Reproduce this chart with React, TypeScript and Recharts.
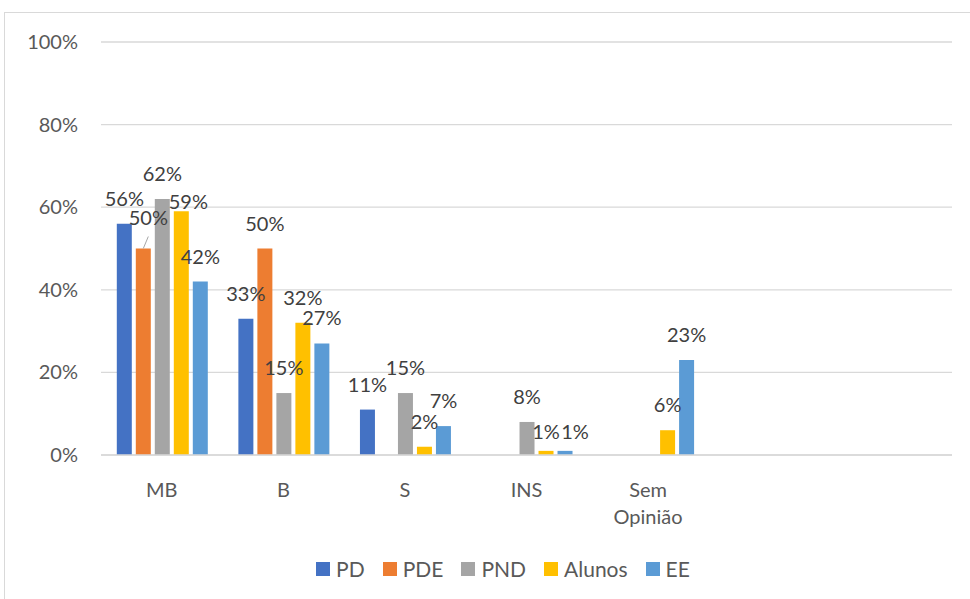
import React from 'react';
import { BarChart, Bar, XAxis, YAxis, CartesianGrid, LabelList } from 'recharts';

// categories (last two are empty slots in the original sheet)
const categories = ['MB', 'B', 'S', 'INS', 'Sem Opinião', '', ''];

const pd = [56, 33, 11, null, null, null, null];
const pde = [50, 50, null, null, null, null, null];
const pnd = [62, 15, 15, 8, null, null, null];
const alunos = [59, 32, 2, 1, 6, null, null];
const ee = [42, 27, 7, 1, 23, null, null];

const yTicks = [0, 20, 40, 60, 80, 100];

const series = [
    { key: 'pd', name: 'PD', values: pd, color: '#4472C4' },
    { key: 'pde', name: 'PDE', values: pde, color: '#ED7D31' },
    { key: 'pnd', name: 'PND', values: pnd, color: '#A5A5A5' },
    { key: 'alunos', name: 'Alunos', values: alunos, color: '#FFC000' },
    { key: 'ee', name: 'EE', values: ee, color: '#5B9BD5' },
];

// manual nudges of a few labels, like in the original
const labelNudges: Record<string, { dx: number; dy: number; leader?: boolean }> = {
    'pde-0': { dx: 5, dy: -6, leader: true },
    'alunos-0': { dx: 7, dy: 16 },
    'alunos-3': { dx: 0, dy: 6 },
    'ee-3': { dx: 10, dy: 6 },
};

const data = categories.map((name, i) => {
    const row: any = { name };
    series.forEach(s => { row[s.key] = s.values[i]; });
    return row;
});

const FONT = 'Lato, "Open Sans", sans-serif';

const makeLabel = (seriesKey: string) => (props: any) => {
    const { x, y, width, value, index } = props;
    if (value == null) return null;
    const nudge = labelNudges[`${seriesKey}-${index}`] || { dx: 0, dy: 0 };
    const cx = x + width / 2;
    const ty = y - 25 + nudge.dy;
    return (
        <g>
            {nudge.leader && (
                <line x1={cx} y1={y} x2={cx + 5} y2={y - 12} stroke="#A6A6A6" strokeWidth={1} />
            )}
            <text x={cx + nudge.dx} y={ty + 7} textAnchor="middle" fill="#404040" fontSize={20} fontFamily={FONT}>
                {value}%
            </text>
        </g>
    );
};

const XTick = ({ x, y, payload }: any) => {
    const lines = String(payload.value).split(' ');
    return (
        <text x={x} y={y} textAnchor="middle" fill="#595959" fontSize={20} fontFamily={FONT}>
            {lines.map((l, i) => (
                <tspan key={i} x={x} dy={i === 0 ? 34 : 27}>{l}</tspan>
            ))}
        </text>
    );
};

const YTick = ({ x, y, payload }: any) => (
    <text x={x - 15} y={y + 7} textAnchor="end" fill="#595959" fontSize={20} fontFamily={FONT}>
        {payload.value}%
    </text>
);

export default function App() {
    return (
        <div style={{ position: 'absolute', left: 0, top: 0, width: 970, height: 599, overflow: 'hidden', background: '#fff' }}>
            <div style={{ position: 'absolute', left: 4, top: 12, width: 1000, height: 620, border: '1px solid #D9D9D9' }} />
            <div style={{ position: 'absolute', left: 0, top: 0 }}>
                <BarChart
                    width={970}
                    height={599}
                    data={data}
                    margin={{ top: 42, right: 18, left: 0, bottom: 74 }}
                    barCategoryGap="13%"
                    barGap={4}
                >
                    <CartesianGrid vertical={false} stroke="#D9D9D9" strokeWidth={1.3} />
                    <XAxis
                        dataKey="name"
                        height={70}
                        tick={<XTick />}
                        tickLine={false}
                        axisLine={{ stroke: '#D9D9D9', strokeWidth: 1.3 }}
                        interval={0}
                    />
                    <YAxis
                        domain={[0, 100]}
                        ticks={yTicks}
                        width={101}
                        tick={<YTick />}
                        tickLine={false}
                        axisLine={false}
                    />
                    {series.map(s => (
                        <Bar key={s.key} dataKey={s.key} name={s.name} fill={s.color} isAnimationActive={false}>
                            <LabelList dataKey={s.key} content={makeLabel(s.key)} />
                        </Bar>
                    ))}
                </BarChart>
            </div>
            <div
                style={{
                    position: 'absolute',
                    top: 556,
                    left: 0,
                    width: 1006,
                    display: 'flex',
                    justifyContent: 'center',
                    alignItems: 'center',
                    gap: 18,
                    fontFamily: FONT,
                    fontSize: 21,
                    color: '#595959',
                }}
            >
                {series.map(s => (
                    <div key={s.key} style={{ display: 'flex', alignItems: 'center', gap: 6 }}>
                        <span style={{ display: 'inline-block', width: 14, height: 14, background: s.color }} />
                        <span>{s.name}</span>
                    </div>
                ))}
            </div>
        </div>
    );
}
